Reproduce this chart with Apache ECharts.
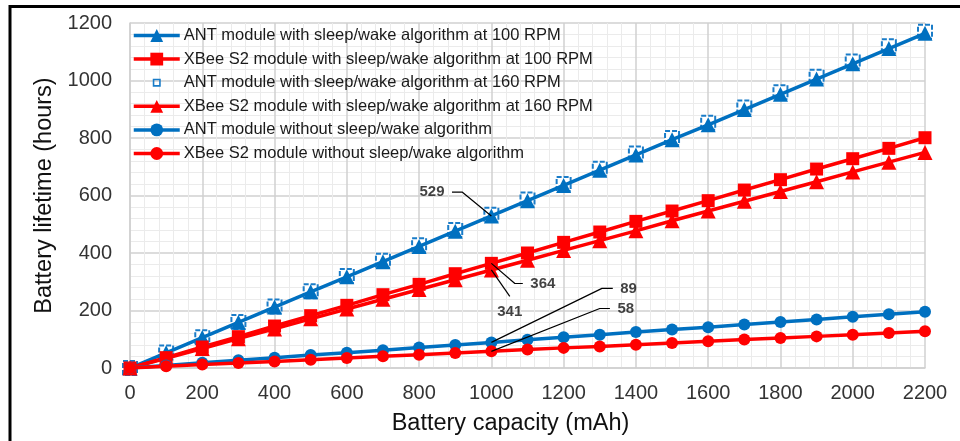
<!DOCTYPE html>
<html>
<head>
<meta charset="utf-8">
<script src="https://cdn.jsdelivr.net/npm/echarts@6/dist/echarts.min.js"></script>
<style>
html,body{margin:0;padding:0;background:#fff;}
#c{width:960px;height:441px;}
</style>
</head>
<body>
<div id="c"></div>
<script>
// Battery capacity (mAh)
const capacity = [0,100,200,300,400,500,600,700,800,900,1000,1100,1200,1300,1400,1500,1600,1700,1800,1900,2000,2100,2200];
// Battery lifetime (hours)
const antSleep100  = [0,53,106,159,212,265,317,370,423,476,529,582,635,688,741,794,846,899,952,1005,1058,1111,1164];
const xbeeSleep100 = [0,36,73,109,146,182,218,255,291,328,364,400,437,473,510,546,582,619,655,692,728,764,801];
const antSleep160  = [0,54,107,160,214,267,320,373,427,480,533,586,640,693,746,800,853,906,959,1013,1066,1119,1170];
const xbeeSleep160 = [0,34,68,102,136,171,205,239,273,307,341,375,409,443,477,512,546,580,614,648,682,716,750];
const antNoSleep   = [0,9,18,27,36,45,53,62,71,80,89,98,107,116,125,134,142,151,160,169,178,187,196];
const xbeeNoSleep  = [0,6,12,17,23,29,35,41,46,52,58,64,70,75,81,87,93,99,104,110,116,122,128];

const seriesNames = [
  'ANT module with sleep/wake algorithm at 100 RPM',
  'XBee S2 module with sleep/wake algorithm at 100 RPM',
  'ANT module with sleep/wake algorithm at 160 RPM',
  'XBee S2 module with sleep/wake algorithm at 160 RPM',
  'ANT module without sleep/wake algorithm',
  'XBee S2 module without sleep/wake algorithm'
];

// Callout leader lines (data space): path points, label text, label side
const callout529 = [[1000,529],[919,612],[891,612]];
const callout364 = [[1000,364],[1065,294],[1087,294]];
const callout341 = [[1000,341],[1051,249]];
const callout89  = [[1000,89],[1306,277],[1336,277]];
const callout58  = [[1000,58],[1300,207],[1328,207]];
const calloutTexts = ['529','364','341','89','58'];
const calloutSides = ['left','right','bottom','right','right'];

const BLUE = '#0070C0';
const RED = '#FF0000';

function pairs(ys){ return capacity.map((x,i)=>[x, ys[i]]); }

function lineSeries(name, ys, color, symbol, size){
  return {
    name: name, type: 'line', data: pairs(ys),
    symbol: symbol, symbolSize: size, showSymbol: true,
    itemStyle: {color: color},
    lineStyle: {color: color, width: 3.5},
    z: 3
  };
}

const callouts = [callout529, callout364, callout341, callout89, callout58];
const calloutSeries = callouts.map((pts, k) => ({
  type: 'line', silent: true, symbol: 'none', z: 10,
  lineStyle: {color: '#000', width: 1.2}, data: pts
}));
const calloutLabelSeries = {
  type: 'scatter', silent: true, z: 11, symbolSize: 1,
  itemStyle: {color: 'rgba(0,0,0,0)'},
  data: callouts.map((pts, k) => ({
    value: pts[pts.length - 1],
    label: {show: true, formatter: calloutTexts[k], position: calloutSides[k],
      distance: calloutSides[k]==='bottom' ? 7 : 7,
      color: '#111', fontSize: 15, fontWeight: 'bold', fontFamily: 'Liberation Sans'}
  }))
};

const legendData = seriesNames.map((n, i) => i === 2 ? {
  name: n,
  icon: 'path://M0,0M46,16M19,4h8v8h-8zM20.6,5.6v4.8h4.8v-4.8z',
  itemStyle: {color: '#1a7cc8', borderWidth: 0}
} : n);

const chart = echarts.init(document.getElementById('c'), null, {renderer: 'canvas'});
chart.setOption({
  backgroundColor: '#fff',
  animation: false,
  textStyle: {fontFamily: 'Liberation Sans'},
  graphic: [{
    type: 'rect', shape: {x: 10, y: 6.5, width: 970, height: 450},
    style: {fill: 'none', stroke: '#000', lineWidth: 3}, z: 100
  }],
  grid: {left: 130, right: 35, top: 23, bottom: 71, containLabel: false},
  legend: {
    orient: 'vertical', left: 132, top: 27, padding: 0,
    itemWidth: 46, itemHeight: 16, itemGap: 6.6,
    data: legendData,
    lineStyle: {width: 3.5},
    textStyle: {fontSize: 16.5, color: '#1a1a1a', lineHeight: 16, fontFamily: 'Liberation Sans', padding: [0,0,0,-1]}
  },
  xAxis: {
    type: 'value', min: 0, max: 2200, interval: 200,
    name: 'Battery capacity (mAh)', nameLocation: 'middle', nameGap: 44,
    nameTextStyle: {fontSize: 23.5, color: '#111', padding: [0, 34, 0, 0]},
    axisLine: {show: true, lineStyle: {color: '#d0d0d0', width: 1.5}},
    axisTick: {show: false},
    axisLabel: {fontSize: 20, color: '#333', margin: 15, formatter: v => String(v)},
    splitLine: {show: true, lineStyle: {color: '#d0d0d0', width: 1.5}},
    minorTick: {show: false, splitNumber: 5},
    minorSplitLine: {show: true, lineStyle: {color: '#ebebeb', width: 1}}
  },
  yAxis: {
    type: 'value', min: 0, max: 1200, interval: 200,
    name: 'Battery lifetime (hours)', nameLocation: 'middle', nameGap: 72,
    nameTextStyle: {fontSize: 23.5, color: '#111'},
    axisLine: {show: true, lineStyle: {color: '#d0d0d0', width: 1.5}},
    axisTick: {show: false},
    axisLabel: {fontSize: 20, color: '#333', margin: 18, formatter: v => String(v)},
    splitLine: {show: true, lineStyle: {color: '#d0d0d0', width: 1.5}},
    minorTick: {show: false, splitNumber: 5},
    minorSplitLine: {show: true, lineStyle: {color: '#ebebeb', width: 1}}
  },
  series: [
    lineSeries(seriesNames[0], antSleep100, BLUE, 'triangle', 15),
    lineSeries(seriesNames[1], xbeeSleep100, RED, 'rect', 13),
    {
      name: seriesNames[2], type: 'line', data: pairs(antSleep160),
      symbol: 'emptyRect', symbolSize: 14, showSymbol: true,
      itemStyle: {color: '#1a7cc8', borderColor: '#1a7cc8', borderWidth: 2.5, borderType: [5,2]},
      lineStyle: {width: 0, opacity: 0},
      z: 2
    },
    lineSeries(seriesNames[3], xbeeSleep160, RED, 'triangle', 15),
    lineSeries(seriesNames[4], antNoSleep, BLUE, 'circle', 12),
    lineSeries(seriesNames[5], xbeeNoSleep, RED, 'circle', 12)
  ].concat(calloutSeries, [calloutLabelSeries])
});
</script>
</body>
</html>
